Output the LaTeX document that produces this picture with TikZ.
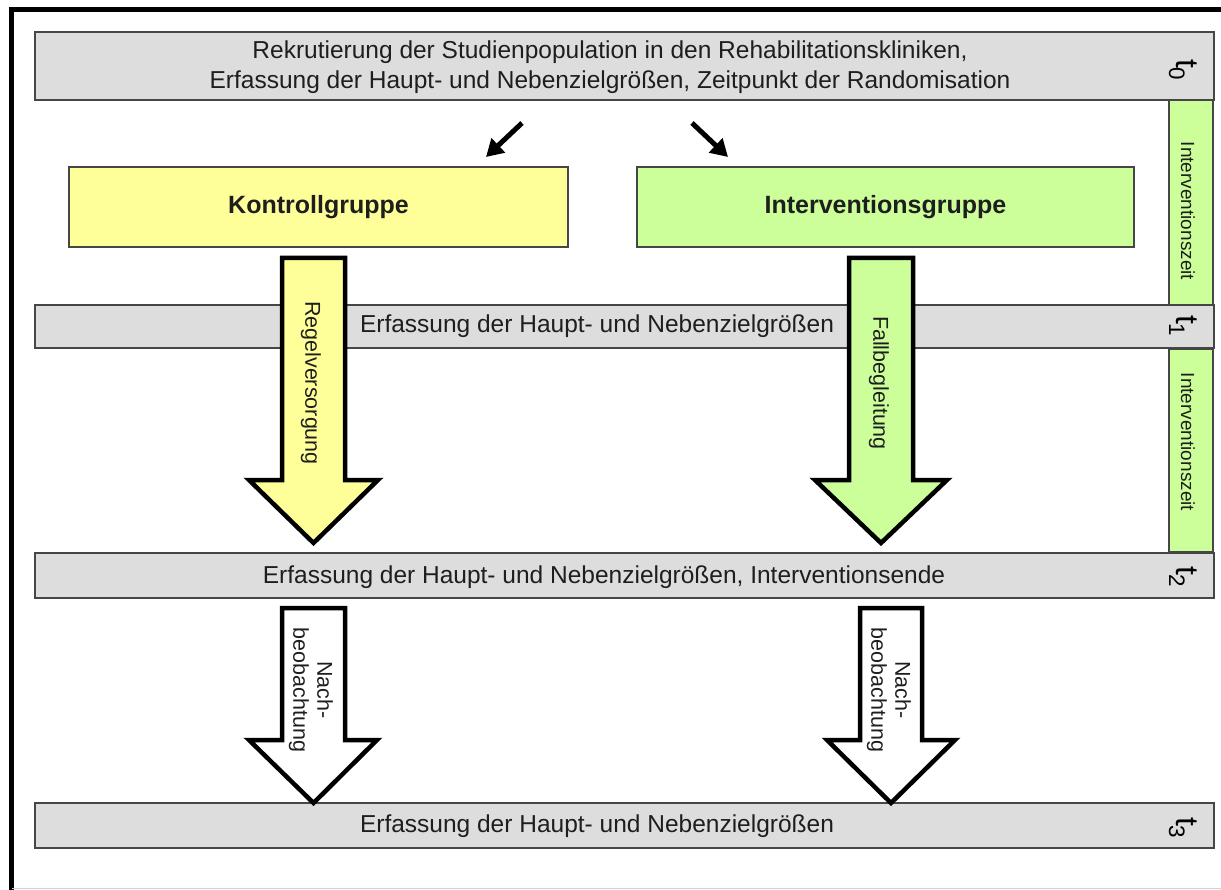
\documentclass[tikz,border=0pt]{standalone}
\usepackage{fontspec}
\setmainfont{Liberation Sans}
\usetikzlibrary{arrows.meta}
\definecolor{barfill}{RGB}{221,221,221}
\definecolor{barline}{RGB}{70,70,70}
\definecolor{ylw}{RGB}{255,255,153}
\definecolor{grn}{RGB}{204,255,153}
\definecolor{txt}{RGB}{30,30,30}
\begin{document}
\begin{tikzpicture}[x=1pt,y=-1pt,
  bar/.style={draw=barline, fill=barfill, line width=1.3pt, inner sep=0pt},
  side/.style={draw=barline, fill=grn, line width=1.3pt, inner sep=0pt},
  group/.style={draw=barline, line width=1.3pt, inner sep=0pt, font=\fontsize{25}{29}\selectfont\bfseries, text=txt},
  bartext/.style={font=\fontsize{24.5}{30}\selectfont, text=txt, align=center, inner sep=0pt},
  vtext/.style={font=\fontsize{19}{22}\selectfont, text=txt, rotate=-90, inner sep=0pt},
  arrtext/.style={font=\fontsize{21.5}{24}\selectfont, text=txt, rotate=-90, align=center, inner sep=0pt},
  tlabel/.style={font=\fontsize{32}{34}\selectfont, text=black, rotate=-90, inner sep=0pt},
  bigarrow/.style={draw=black, line width=4.5pt, line join=miter},
  smallarrow/.style={draw=black, line width=5pt, -{Triangle[length=17pt,width=19pt]}}
]
\useasboundingbox (0,0) rectangle (1221,890);
\fill[white] (0,0) rectangle (1221,890);
% frame
\draw[black, line width=5pt] (11.5,890) -- (11.5,9.5) -- (1221,9.5);
\draw[gray!35, line width=1.5pt] (11.5,888.5) -- (1221,888.5);

% bars
\node[bar, minimum width=1179pt, minimum height=68pt] (bar0) at (624.5,66) {};
\node[bar, minimum width=1179pt, minimum height=43pt] (bar1) at (624.5,326.5) {};
\node[bar, minimum width=1179pt, minimum height=45pt] (bar2) at (624.5,575.5) {};
\node[bar, minimum width=1179pt, minimum height=45pt] (bar3) at (624.5,825.5) {};

\node[bartext] (txt0) at (610,67) {Rekrutierung der Studienpopulation in den Rehabilitationskliniken,\\Erfassung der Haupt- und Nebenzielgrößen, Zeitpunkt der Randomisation};
\node[bartext] (txt1) at (597,326) {Erfassung der Haupt- und Nebenzielgrößen};
\node[bartext] (txt2) at (604,577) {Erfassung der Haupt- und Nebenzielgrößen, Interventionsende};
\node[bartext] (txt3) at (597,826) {Erfassung der Haupt- und Nebenzielgrößen};

% side bars
\node[side, minimum width=44pt, minimum height=205pt] (side1) at (1191,202.5) {};
\node[side, minimum width=44pt, minimum height=203pt] (side2) at (1191,450.5) {};
\node[vtext] (sidetxt1) at (1188,211) {Interventionszeit};
\node[vtext] (sidetxt2) at (1188,442) {Interventionszeit};

% t labels
\node[tlabel] (t0) at (1183,70) {t\textsubscript{0}};
\node[tlabel] (t1) at (1183,326) {t\textsubscript{1}};
\node[tlabel] (t2) at (1183,577) {t\textsubscript{2}};
\node[tlabel] (t3) at (1183,828) {t\textsubscript{3}};

% groups
\node[group, fill=ylw, minimum width=499pt, minimum height=80pt] (kg) at (318.5,207) {Kontrollgruppe};
\node[group, fill=grn, minimum width=497pt, minimum height=80pt] (ig) at (885.5,207) {Interventionsgruppe};

% small arrows
\coordinate (a1s) at (522,123);
\coordinate (a1e) at (486,157);
\coordinate (a2s) at (692,123);
\coordinate (a2e) at (728,157);
\draw[smallarrow] (a1s) -- (a1e);
\draw[smallarrow] (a2s) -- (a2e);

% big arrows
\draw[bigarrow, fill=ylw] (282,258) -- (345,258) -- (345,480) -- (378,480) -- (313.5,543) -- (249,480) -- (282,480) -- cycle;
\draw[bigarrow, fill=grn] (849,258) -- (913,258) -- (913,480) -- (947,480) -- (881,543) -- (815,480) -- (849,480) -- cycle;
\draw[bigarrow, fill=white] (282,608) -- (345,608) -- (345,740) -- (377,740) -- (313.5,803) -- (249,740) -- (282,740) -- cycle;
\draw[bigarrow, fill=white] (860,608) -- (922,608) -- (922,740) -- (955,740) -- (891,803) -- (827,740) -- (860,740) -- cycle;

\node[arrtext] (regel) at (311,383) {Regelversorgung};
\node[arrtext] (fall) at (879,383) {Fallbegleitung};
\node[arrtext] (nach1) at (311,690) {Nach-\\beobachtung};
\node[arrtext] (nach2) at (889,690) {Nach-\\beobachtung};
\end{tikzpicture}
\end{document}
